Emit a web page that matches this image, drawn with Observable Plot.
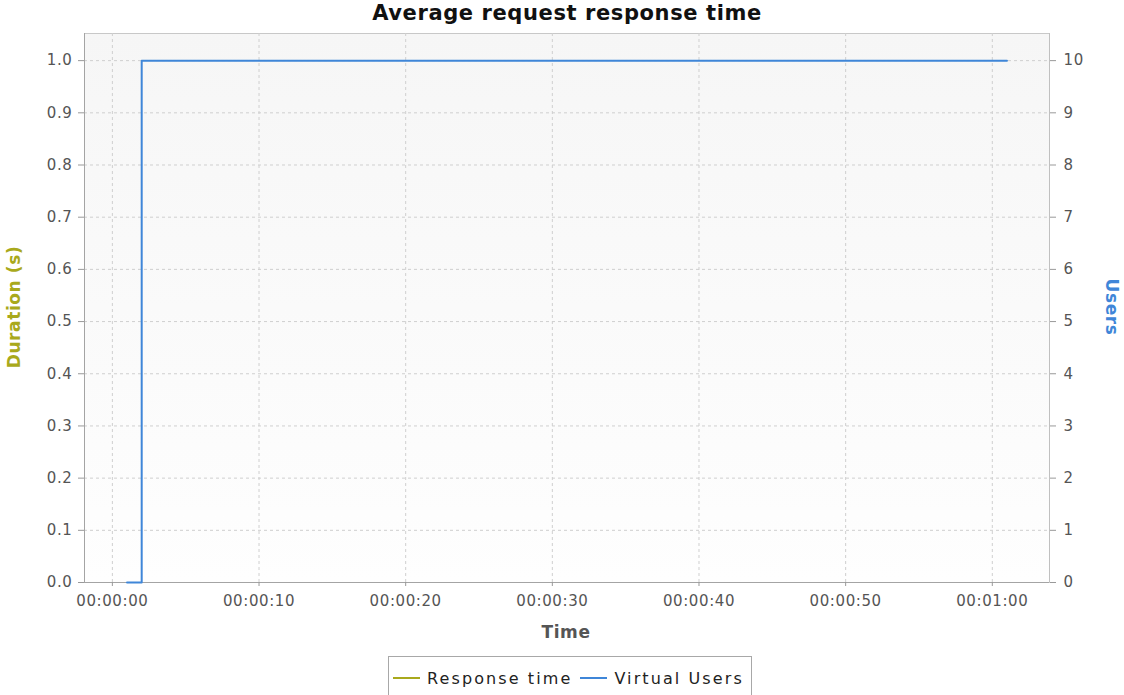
<!DOCTYPE html>
<html>
<head>
<meta charset="utf-8">
<script src="https://cdn.jsdelivr.net/npm/d3@7"></script>
<script src="https://cdn.jsdelivr.net/npm/@observablehq/plot@0.6"></script>
<style>
  html, body { margin: 0; padding: 0; background: #ffffff; }
  #wrap { position: relative; width: 1124px; height: 695px; overflow: hidden; font-family: "DejaVu Sans", sans-serif; }
  #chart { position: absolute; left: 0; top: 0; }
  .title { position: absolute; top: 0px; left: 0; width: 1134px; text-align: center; font-weight: bold; font-size: 21px; letter-spacing: 0.6px; color: #111; line-height: 26px; }
  .xlabel { position: absolute; top: 621px; left: 0; width: 1132px; text-align: center; font-weight: bold; font-size: 17px; letter-spacing: 0.6px; color: #555; line-height: 22px; }
  .ylabel { position: absolute; font-weight: bold; font-size: 17px; letter-spacing: 0.6px; line-height: 20px; white-space: nowrap; }
  .legend { position: absolute; top: 656px; left: 388px; height: 44px; box-sizing: border-box; border: 1px solid #a8a8a8; padding: 0 7px 0 4px; display: flex; align-items: flex-start; background: #fff; }
  .legend .item { display: flex; align-items: center; height: 28px; margin-top: 7px; font-size: 16px; letter-spacing: 2.1px; color: #222; }
  .legend .sw { display: inline-block; width: 27px; height: 2px; margin-right: 7px; }
  .legend .item + .item { margin-left: 8px; }
</style>
</head>
<body>
<div id="wrap"></div>
<script>
// ---- data ----
const chartTitle = "Average request response time";
const xTitle = "Time";
const leftTitle = "Duration (s)";
const rightTitle = "Users";
const seriesNames = ["Response time", "Virtual Users"];
const seriesColors = ["#a9a91c", "#3f86d8"];
// Virtual users samples (time in seconds since start)
const userTimes = [1, 2, 61];
const userCounts = [0, 10, 10];
// Response time samples (none visible in the chart)
const responseTimesT = [];
const responseTimesV = [];
// ticks
const xTicks = [0, 10, 20, 30, 40, 50, 60];
const durationTicks = [0, 0.1, 0.2, 0.3, 0.4, 0.5, 0.6, 0.7, 0.8, 0.9, 1.0];
const userTicks = [0, 1, 2, 3, 4, 5, 6, 7, 8, 9, 10];
const xDomain = [-1.9, 63.9];
const yDomain = [0, 1.052];
const usersMax = 10; // right axis maps 0..10 users onto 0..1 of the left axis

// ---- build tables ----
const users = userTimes.map((t, i) => ({t, users: userCounts[i]}));
const responses = responseTimesT.map((t, i) => ({t, v: responseTimesV[i]}));

const fmtTime = s => d3.utcFormat("%H:%M:%S")(new Date(s * 1000));

const wrap = document.getElementById("wrap");

const defs = () => {
  const d = d3.create("svg:defs");
  const g = d.append("linearGradient").attr("id", "bgGrad").attr("x1", 0).attr("y1", 0).attr("x2", 0).attr("y2", 1);
  g.append("stop").attr("offset", "0%").attr("stop-color", "#f6f6f6");
  g.append("stop").attr("offset", "100%").attr("stop-color", "#fefefe");
  return d.node();
};

const chart = Plot.plot({
  width: 1124,
  height: 650,
  marginTop: 33,
  marginBottom: 68,
  marginLeft: 84,
  marginRight: 75,
  style: {fontFamily: "DejaVu Sans, sans-serif", fontSize: "15px", letterSpacing: "0.6px", color: "#555", background: "transparent"},
  x: {domain: xDomain, label: null},
  y: {domain: yDomain, label: null},
  marks: [
    defs,
    Plot.frame({fill: "url(#bgGrad)", stroke: "#c8c8c8"}),
    Plot.gridX(xTicks, {stroke: "#cfcfcf", strokeOpacity: 1, strokeDasharray: "3,3"}),
    Plot.gridY(durationTicks, {stroke: "#cfcfcf", strokeOpacity: 1, strokeDasharray: "3,3"}),
    Plot.ruleY([yDomain[0]], {stroke: "#a4a4a4"}),
    Plot.ruleX([xDomain[0]], {stroke: "#a4a4a4"}),
    Plot.ruleX([xDomain[1]], {stroke: "#c0c0c0"}),
    Plot.axisX(xTicks, {tickFormat: fmtTime, tickSize: 4, tickPadding: 9, stroke: "#999", label: null}),
    Plot.axisY(durationTicks, {anchor: "left", tickFormat: d3.format(".1f"), tickSize: 6, tickPadding: 6, stroke: "#999", label: null}),
    Plot.axisY(userTicks.map(u => u / usersMax), {anchor: "right", tickFormat: d => Math.round(d * usersMax), tickSize: 6, tickPadding: 8, stroke: "#999", label: null}),
    Plot.line(responses, {x: "t", y: "v", stroke: seriesColors[0], strokeWidth: 2}),
    Plot.line(users, {x: "t", y: d => d.users / usersMax, curve: "step-after", stroke: seriesColors[1], strokeWidth: 2})
  ]
});
chart.id = "chart";
wrap.appendChild(chart);

const title = document.createElement("div");
title.className = "title";
title.textContent = chartTitle;
wrap.appendChild(title);

const xl = document.createElement("div");
xl.className = "xlabel";
xl.textContent = xTitle;
wrap.appendChild(xl);

const yl = document.createElement("div");
yl.className = "ylabel";
yl.textContent = leftTitle;
yl.style.color = seriesColors[0];
yl.style.left = "14px";
yl.style.top = "307px";
yl.style.transform = "translate(-50%, -50%) rotate(-90deg)";
wrap.appendChild(yl);

const yr = document.createElement("div");
yr.className = "ylabel";
yr.textContent = rightTitle;
yr.style.color = seriesColors[1];
yr.style.left = "1112px";
yr.style.top = "307px";
yr.style.transform = "translate(-50%, -50%) rotate(90deg)";
wrap.appendChild(yr);

const legend = document.createElement("div");
legend.className = "legend";
seriesNames.forEach((name, i) => {
  const it = document.createElement("div");
  it.className = "item";
  const sw = document.createElement("span");
  sw.className = "sw";
  sw.style.background = seriesColors[i];
  it.appendChild(sw);
  const tx = document.createElement("span");
  tx.textContent = name;
  it.appendChild(tx);
  legend.appendChild(it);
});
wrap.appendChild(legend);
</script>
</body>
</html>
